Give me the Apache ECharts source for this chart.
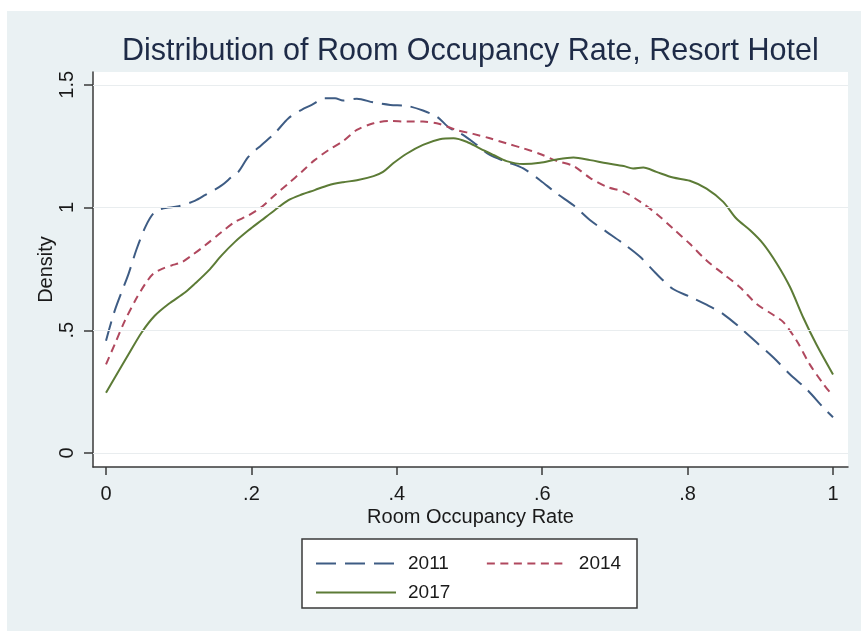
<!DOCTYPE html>
<html>
<head>
<meta charset="utf-8">
<script src="https://cdn.jsdelivr.net/npm/echarts@6/dist/echarts.min.js"></script>
<style>
	html, body { margin: 0; padding: 0; background: #fff; }
	#chart { width: 861px; height: 631px; }
</style>
</head>
<body>
<div id="chart"></div>
<script>
	// 入住率 (x) 和密度 (y)
	var rate2011 = [0, 0.012, 0.031, 0.042, 0.054, 0.065, 0.077, 0.10, 0.122, 0.136, 0.159, 0.173, 0.182, 0.196, 0.214, 0.232, 0.251, 0.269, 0.283, 0.301, 0.315, 0.326, 0.345, 0.368, 0.391, 0.414, 0.436, 0.455, 0.473, 0.491, 0.51, 0.528, 0.551, 0.574, 0.597, 0.62, 0.643, 0.666, 0.689, 0.712, 0.735, 0.757, 0.78, 0.803, 0.826, 0.849, 0.872, 0.895, 0.918, 0.941, 0.964, 0.987, 1.0];
	var density2011 = [0.457, 0.58, 0.73, 0.83, 0.92, 0.975, 0.995, 1.005, 1.027, 1.05, 1.09, 1.125, 1.145, 1.207, 1.255, 1.302, 1.364, 1.398, 1.418, 1.445, 1.445, 1.436, 1.443, 1.428, 1.418, 1.414, 1.395, 1.37, 1.323, 1.296, 1.255, 1.214, 1.186, 1.159, 1.111, 1.057, 1.009, 0.948, 0.90, 0.852, 0.798, 0.73, 0.668, 0.637, 0.604, 0.566, 0.511, 0.45, 0.389, 0.32, 0.259, 0.184, 0.146];

	var rate2014 = [0, 0.012, 0.026, 0.04, 0.054, 0.065, 0.077, 0.09, 0.104, 0.118, 0.136, 0.159, 0.177, 0.196, 0.214, 0.232, 0.251, 0.269, 0.287, 0.306, 0.326, 0.345, 0.368, 0.391, 0.414, 0.436, 0.459, 0.482, 0.505, 0.528, 0.551, 0.574, 0.597, 0.62, 0.643, 0.666, 0.689, 0.712, 0.735, 0.757, 0.78, 0.803, 0.826, 0.849, 0.872, 0.895, 0.918, 0.932, 0.95, 0.968, 0.987, 1.0];
	var density2014 = [0.361, 0.443, 0.539, 0.62, 0.689, 0.73, 0.75, 0.764, 0.777, 0.805, 0.845, 0.9, 0.941, 0.968, 1.002, 1.05, 1.098, 1.145, 1.193, 1.234, 1.27, 1.316, 1.343, 1.353, 1.35, 1.35, 1.34, 1.316, 1.30, 1.282, 1.261, 1.241, 1.218, 1.19, 1.169, 1.12, 1.084, 1.064, 1.023, 0.975, 0.914, 0.852, 0.784, 0.73, 0.675, 0.607, 0.562, 0.532, 0.457, 0.361, 0.28, 0.232];

	var rate2017 = [0, 0.012, 0.031, 0.049, 0.067, 0.086, 0.109, 0.122, 0.141, 0.159, 0.177, 0.196, 0.214, 0.232, 0.251, 0.269, 0.287, 0.306, 0.326, 0.345, 0.368, 0.381, 0.395, 0.414, 0.436, 0.459, 0.478, 0.496, 0.514, 0.533, 0.551, 0.574, 0.597, 0.62, 0.643, 0.666, 0.689, 0.712, 0.725, 0.739, 0.757, 0.78, 0.803, 0.826, 0.849, 0.867, 0.886, 0.904, 0.923, 0.941, 0.959, 0.977, 1.0];
	var density2017 = [0.245, 0.307, 0.402, 0.491, 0.559, 0.607, 0.655, 0.689, 0.743, 0.805, 0.859, 0.907, 0.948, 0.989, 1.03, 1.053, 1.071, 1.091, 1.103, 1.111, 1.128, 1.145, 1.18, 1.22, 1.255, 1.278, 1.282, 1.268, 1.241, 1.214, 1.189, 1.177, 1.182, 1.196, 1.204, 1.193, 1.18, 1.169, 1.159, 1.163, 1.145, 1.122, 1.109, 1.077, 1.023, 0.955, 0.907, 0.852, 0.77, 0.675, 0.552, 0.443, 0.32];

	var years = ['2011', '2014', '2017'];
	var xTicks = [0, 0.2, 0.4, 0.6, 0.8, 1];
	var yTicks = [0, 0.5, 1, 1.5];

	function pairs(xs, ys) {
		return xs.map(function (x, i) { return [x, ys[i]]; });
	}
	// Stata 风格刻度: .2 .4 .5
	function stataLabel(v) {
		return String(v).replace(/^0\./, '.');
	}

	var font = 'Liberation Sans, Arial, sans-serif';
	var legendText = { fontFamily: font, fontSize: 19, color: '#1a1a1a', padding: [0, 0, 0, 7] };
	var myChart = echarts.init(document.getElementById('chart'));
	myChart.setOption({
		animation: false,
		backgroundColor: '#fff',
		graphic: [{
			type: 'rect',
			z: -10,
			shape: { x: 7, y: 11, width: 854, height: 620 },
			style: { fill: '#eaf1f3' }
		}, {
			type: 'rect',
			z: 5,
			shape: { x: 302, y: 539, width: 335, height: 69 },
			style: { fill: '#fff', stroke: '#3a3a3a', lineWidth: 1.5 }
		}],
		title: {
			text: 'Distribution of Room Occupancy Rate, Resort Hotel',
			left: 117,
			top: 31,
			textStyle: { fontFamily: font, fontSize: 30.5, fontWeight: 'normal', color: '#1e2b47' }
		},
		grid: {
			left: 93, top: 72, right: 13, bottom: 164,
			show: true, backgroundColor: '#fff', borderWidth: 0
		},
		legend: [{
			data: ['2011', '2014'],
			left: 310, top: 549, z: 10,
			itemWidth: 80, itemHeight: 14, itemGap: 37,
			itemStyle: { opacity: 0 },
			textStyle: legendText
		}, {
			data: ['2017'],
			left: 310, top: 578, z: 10,
			itemWidth: 80, itemHeight: 14,
			itemStyle: { opacity: 0 },
			textStyle: legendText
		}],
		xAxis: {
			type: 'value',
			min: -0.0179, max: 1.0206,
			name: 'Room Occupancy Rate',
			nameLocation: 'middle',
			nameGap: 40,
			nameMoveOverlap: false,
			nameTextStyle: { fontFamily: font, fontSize: 20, color: '#1a1a1a' },
			axisLine: { show: true, onZero: false, lineStyle: { color: '#3a3a3a', width: 1.5 } },
			axisTick: { show: true, customValues: xTicks, length: 8, lineStyle: { color: '#3a3a3a', width: 1.5 } },
			axisLabel: { customValues: xTicks, formatter: stataLabel, margin: 17, fontFamily: font, fontSize: 20, color: '#1a1a1a' },
			splitLine: { show: false }
		},
		yAxis: {
			type: 'value',
			min: -0.057, max: 1.552,
			name: 'Density',
			nameLocation: 'middle',
			nameRotate: 90,
			nameGap: 37,
			nameMoveOverlap: false,
			nameTextStyle: { fontFamily: font, fontSize: 20, color: '#1a1a1a' },
			axisLine: { show: true, onZero: false, lineStyle: { color: '#3a3a3a', width: 1.5 } },
			axisTick: { show: true, customValues: yTicks, length: 9, lineStyle: { color: '#3a3a3a', width: 1.5 } },
			axisLabel: { customValues: yTicks, formatter: stataLabel, rotate: 90, margin: 16, fontFamily: font, fontSize: 20, color: '#1a1a1a' },
			splitLine: { show: false }
		},
		series: [{
			name: years[0],
			type: 'line',
			data: pairs(rate2011, density2011),
			showSymbol: false, symbol: 'none', smooth: 0.3,
			lineStyle: { color: '#3e5c84', width: 2, type: [20, 9] },
			itemStyle: { color: '#3e5c84' },
			markLine: {
				silent: true, symbol: 'none', label: { show: false },
				lineStyle: { color: '#e9edef', width: 1.2, type: 'solid' },
				data: yTicks.map(function (v) { return { yAxis: v }; })
			}
		}, {
			name: years[1],
			type: 'line',
			data: pairs(rate2014, density2014),
			showSymbol: false, symbol: 'none', smooth: 0.3,
			lineStyle: { color: '#b0485e', width: 2, type: [8, 5.5] },
			itemStyle: { color: '#b0485e' }
		}, {
			name: years[2],
			type: 'line',
			data: pairs(rate2017, density2017),
			showSymbol: false, symbol: 'none', smooth: 0.3,
			lineStyle: { color: '#5c7b36', width: 2 },
			itemStyle: { color: '#5c7b36' }
		}]
	});
</script>
</body>
</html>
